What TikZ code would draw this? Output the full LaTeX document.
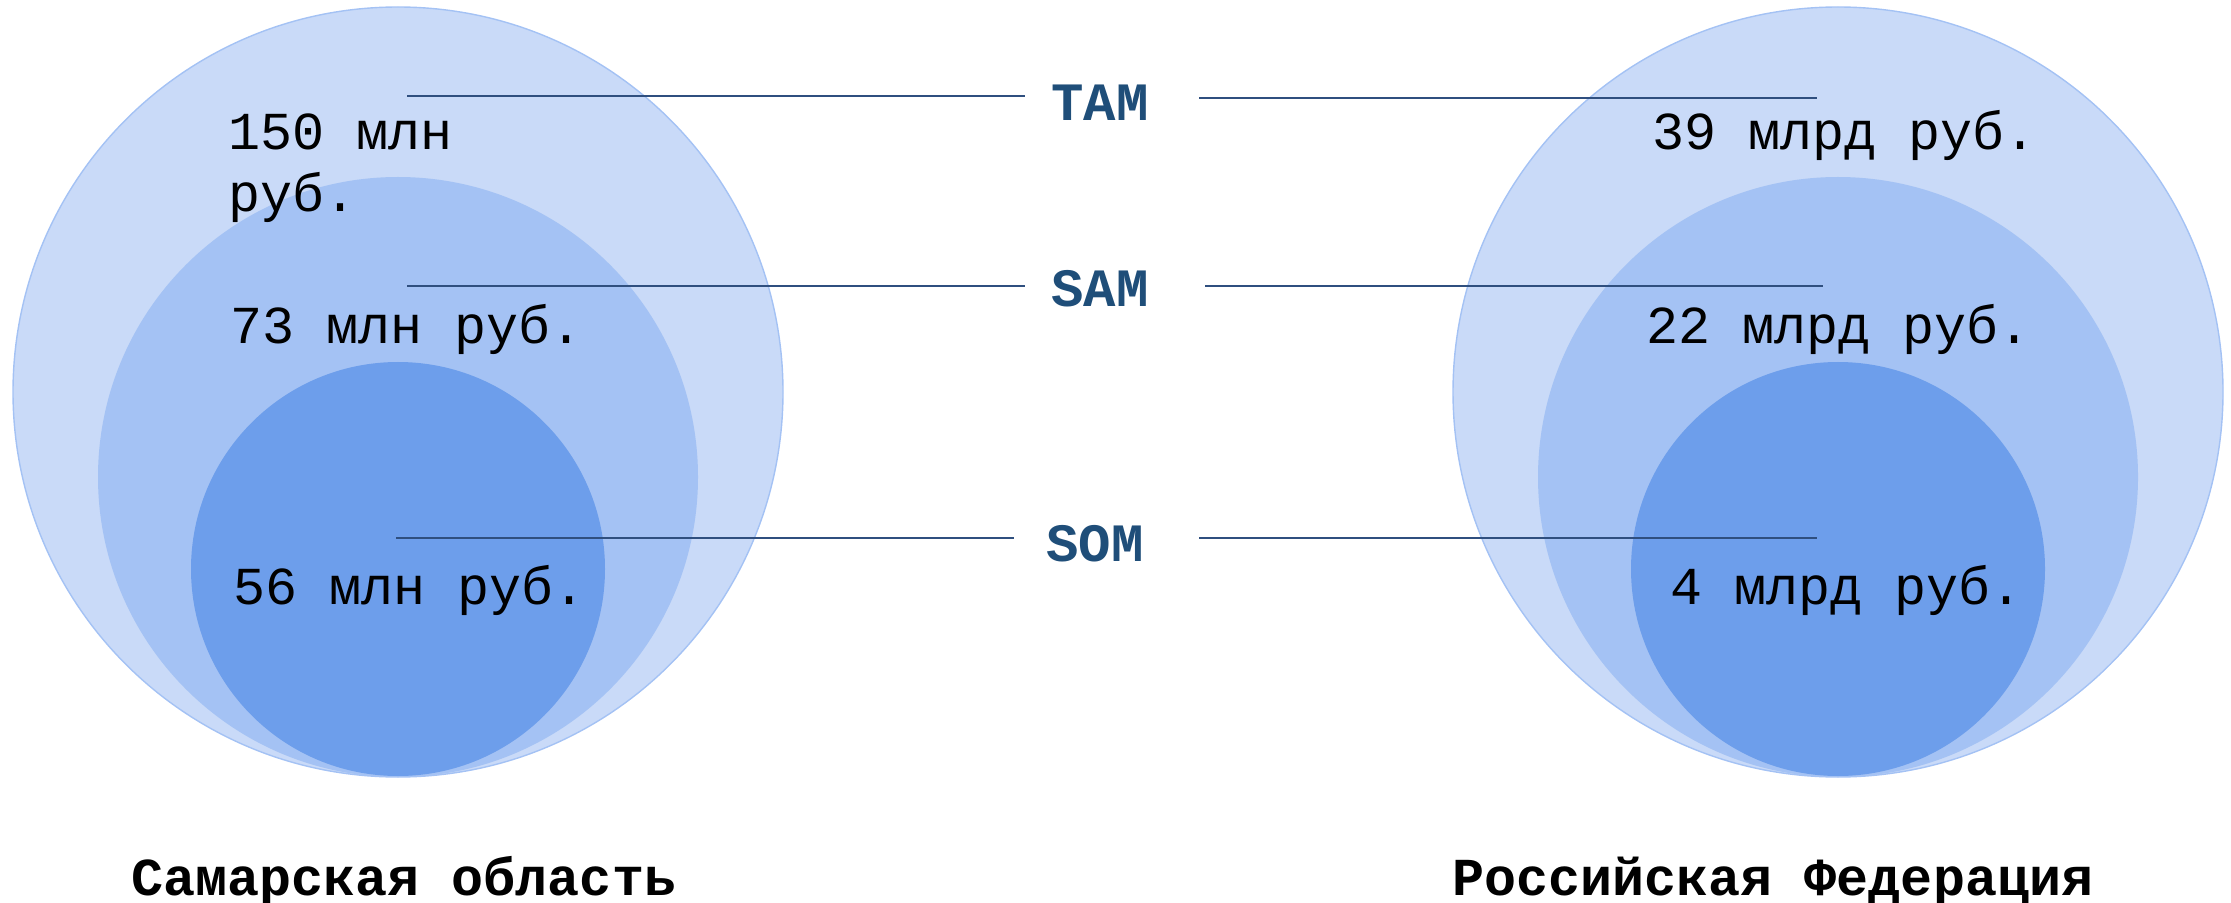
\documentclass[tikz,border=0pt]{standalone}
\usepackage{fontspec}
\setmainfont{Liberation Mono}
\definecolor{outerfill}{HTML}{C9DAF8}
\definecolor{outerline}{HTML}{A4C2F4}
\definecolor{midfill}{HTML}{A4C2F4}
\definecolor{innerfill}{HTML}{6D9EEB}
\definecolor{labelblue}{HTML}{1F4E79}
\definecolor{leaderblue}{HTML}{2F4F7F}
\begin{document}
\begin{tikzpicture}[x=0.5pt,y=-0.5pt,
  ring/.style={circle,inner sep=0pt,outer sep=0pt},
  outerring/.style={ring,minimum size=385pt,fill=outerfill,draw=outerline,line width=0.7pt},
  midring/.style={ring,minimum size=300pt,fill=midfill},
  innerring/.style={ring,minimum size=207pt,fill=innerfill},
  valtext/.style={inner sep=0pt,anchor=base west,font=\fontsize{26.7}{31}\selectfont,text=black},
  tag/.style={inner sep=0pt,anchor=base,font=\fontsize{27}{31}\selectfont\bfseries,text=labelblue},
  title/.style={inner sep=0pt,anchor=base west,font=\fontsize{26.7}{31}\selectfont\bfseries,text=black},
  leader/.style={draw=leaderblue,line width=1pt}]
\useasboundingbox (0,0) rectangle (2231,903);
% left circles
\node[outerring] (Lout) at (398,392) {};
\node[midring] (Lmid) at (398,477) {};
\node[innerring] (Lin) at (398,569) {};
% right circles
\node[outerring] (Rout) at (1838,392) {};
\node[midring] (Rmid) at (1838,477) {};
\node[innerring] (Rin) at (1838,569) {};
% values
\node[valtext] (v150) at (228,150) {\parbox[t]{300pt}{150 млн\\руб.}};
\node[valtext] (v73) at (230,344) {73 млн руб.};
\node[valtext] (v56) at (233,604) {56 млн руб.};
\node[valtext] (v39) at (1652,150) {39 млрд руб.};
\node[valtext] (v22) at (1646,344) {22 млрд руб.};
\node[valtext] (v4) at (1670,604) {4 млрд руб.};
% tags
\node[tag] (tam) at (1100,121) {TAM};
\node[tag] (sam) at (1100,307) {SAM};
\node[tag] (som) at (1095,561) {SOM};
% leader coordinates
\coordinate (tamA) at (407,96);
\coordinate (tamB) at (1025,96);
\coordinate (tamC) at (1199,98);
\coordinate (tamD) at (1817,98);
\coordinate (samA) at (407,286);
\coordinate (samB) at (1025,286);
\coordinate (samC) at (1205,286);
\coordinate (samD) at (1823,286);
\coordinate (somA) at (396,538);
\coordinate (somB) at (1014,538);
\coordinate (somC) at (1199,538);
\coordinate (somD) at (1817,538);
\draw[leader] (tamA) -- (tamB);
\draw[leader] (tamC) -- (tamD);
\draw[leader] (samA) -- (samB);
\draw[leader] (samC) -- (samD);
\draw[leader] (somA) -- (somB);
\draw[leader] (somC) -- (somD);
% titles
\node[title] (tleft) at (131,895) {Самарская область};
\node[title] (tright) at (1452,895) {Российская Федерация};
\end{tikzpicture}
\end{document}
